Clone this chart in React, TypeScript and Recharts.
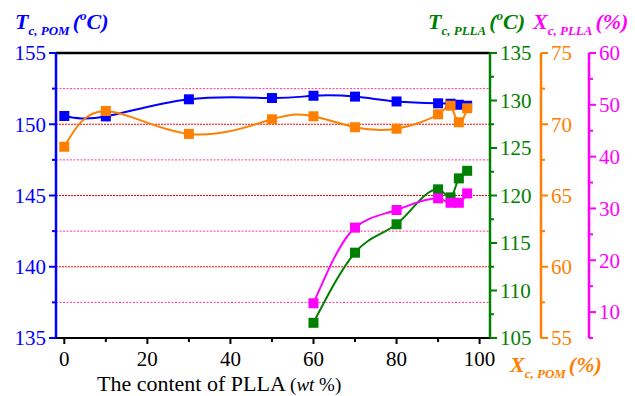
import React from 'react';
import { ComposedChart, Line, XAxis, YAxis, ReferenceLine } from 'recharts';

// PLLA content (wt %)
const pllaContent = [0, 10, 30, 50, 60, 70, 80, 90, 93, 95, 97];
// Tc of POM (°C), left axis
const tcPom = [150.58, 150.55, 151.75, 151.84, 152.0, 151.94, 151.6, 151.47, 151.44, 151.37, 151.3];
// Xc of POM (%), orange axis
const xcPom = [68.42, 70.93, 69.32, 70.35, 70.56, 69.79, 69.69, 70.7, 71.3, 70.14, 71.12];
// Tc of PLLA (°C), green axis (only from 60 wt %)
const tcPlla = [null, null, null, null, 106.6, 113.98, 116.97, 120.65, 119.8, 121.8, 122.6];
// Xc of PLLA (%), magenta axis
const xcPlla = [null, null, null, null, 11.7, 26.3, 29.7, 31.95, 31.1, 31.1, 32.9];

const xTicks = [0, 10, 20, 30, 40, 50, 60, 70, 80, 90, 100];
const leftTicks = [135, 137.5, 140, 142.5, 145, 147.5, 150, 152.5, 155];
const greenTicks = [105, 107.5, 110, 112.5, 115, 117.5, 120, 122.5, 125, 127.5, 130, 132.5, 135];
const orangeTicks = [55, 57.5, 60, 62.5, 65, 67.5, 70, 72.5, 75];
const magentaTicks = [5, 10, 15, 20, 25, 30, 35, 40, 45, 50, 55, 60];

const data = pllaContent.map((x, i) => ({
  x,
  tcPom: tcPom[i],
  xcPom: xcPom[i],
  tcPlla: tcPlla[i],
  xcPlla: xcPlla[i],
}));

const BLUE = '#0000ff';
const ORANGE = '#ff8000';
const GREEN = '#008000';
const MAGENTA = '#ff00ff';
const FONT = 'Liberation Serif';

const squareDot = (color: string, id: string) => (props: any) => {
  const { cx, cy, index } = props;
  if (cx == null || cy == null || props.value == null) return <g key={`${id}-${index}`} />;
  return <rect key={`${id}-${index}`} x={cx - 5} y={cy - 5} width={10} height={10} fill={color} />;
};

const yTick = (color: string, side: 'left' | 'right', isMajor: (v: number) => boolean) => (props: any) => {
  const { x, y, payload } = props;
  const major = isMajor(payload.value);
  const len = major ? 7 : 4;
  const dir = side === 'left' ? -1 : 1;
  return (
    <g>
      <line x1={x} y1={y} x2={x + dir * len} y2={y} stroke={color} strokeWidth={2} />
      {major && (
        <text
          x={x + dir * 10}
          y={y}
          dy="0.35em"
          textAnchor={side === 'left' ? 'end' : 'start'}
          fill={color}
          fontFamily={FONT}
          fontSize={21}
        >
          {String(payload.value)}
        </text>
      )}
    </g>
  );
};

const xTick = (props: any) => {
  const { x, y, payload } = props;
  const major = payload.value % 20 === 0;
  return (
    <g>
      <line x1={x} y1={y} x2={x} y2={y + (major ? 6 : 4)} stroke="#000" strokeWidth={2} />
      {major && (
        <text x={x} y={y + 28} textAnchor="middle" fill="#000" fontFamily={FONT} fontSize={21}>
          {String(payload.value)}
        </text>
      )}
    </g>
  );
};

function AxisTitle({ x, y, color, sym, sub, unit }: { x: number; y: number; color: string; sym: string; sub: string; unit: 'C' | '%' }) {
  return (
    <text x={x} y={y} fill={color} fontFamily={FONT} fontWeight="bold" fontStyle="italic" fontSize={22}>
      <tspan>{sym}</tspan>
      <tspan fontSize={13} dy={6}>{sub}</tspan>
      {unit === 'C' ? (
        <>
          <tspan dy={-6} dx={3}>(</tspan>
          <tspan fontSize={13} dy={-9}>o</tspan>
          <tspan dy={9}>C)</tspan>
        </>
      ) : (
        <tspan dy={-6} dx={3}>(%)</tspan>
      )}
    </text>
  );
}

export default function App() {
  return (
    <div style={{ position: 'absolute', left: 0, top: 0, width: 635, height: 396, background: '#fff', fontFamily: FONT }}>
      <ComposedChart
        width={635}
        height={396}
        data={data}
        margin={{ top: 53, right: 0, bottom: 0, left: 0 }}
        style={{ fontFamily: FONT }}
      >
        <XAxis
          dataKey="x"
          type="number"
          domain={[-2, 102.5]}
          ticks={xTicks}
          allowDataOverflow
          height={58}
          tickSize={0}
          tickMargin={0}
          tick={xTick}
          axisLine={{ stroke: '#000', strokeWidth: 2 }}
          tickLine={false}
        />
        <YAxis
          yAxisId="a0"
          orientation="left"
          width={56}
          domain={[135, 155]}
          ticks={leftTicks}
          tickSize={0}
          tickMargin={0}
          tickLine={false}
          tick={yTick(BLUE, 'left', (v) => v % 5 === 0)}
          axisLine={{ stroke: BLUE, strokeWidth: 2.5 }}
        />
        <YAxis
          yAxisId="a1"
          orientation="right"
          width={51}
          domain={[105, 135]}
          ticks={greenTicks}
          tickSize={0}
          tickMargin={0}
          tickLine={false}
          tick={yTick(GREEN, 'right', (v) => v % 5 === 0)}
          axisLine={{ stroke: GREEN, strokeWidth: 2.5 }}
        />
        <YAxis
          yAxisId="a2"
          orientation="right"
          width={48}
          domain={[55, 75]}
          ticks={orangeTicks}
          tickSize={0}
          tickMargin={0}
          tickLine={false}
          tick={yTick(ORANGE, 'right', (v) => v % 5 === 0)}
          axisLine={{ stroke: ORANGE, strokeWidth: 2.5 }}
        />
        <YAxis
          yAxisId="a3"
          orientation="right"
          width={46}
          domain={[5, 60]}
          ticks={magentaTicks}
          tickSize={0}
          tickMargin={0}
          tickLine={false}
          tick={yTick(MAGENTA, 'right', (v) => v % 10 === 0)}
          axisLine={{ stroke: MAGENTA, strokeWidth: 2.5 }}
        />

        {[152.5, 147.5, 142.5, 137.5].map((v) => (
          <ReferenceLine key={`minor-${v}`} yAxisId="a0" y={v} stroke="#ff3399" strokeDasharray="2 1.5" strokeWidth={1} />
        ))}
        {[150, 145, 140].map((v) => (
          <ReferenceLine key={`major-${v}`} yAxisId="a0" y={v} stroke="#ff0000" strokeDasharray="2 1" strokeWidth={1} />
        ))}
        <ReferenceLine yAxisId="a0" y={155} stroke="#000" strokeWidth={2.5} />

        <Line
          yAxisId="a0"
          dataKey="tcPom"
          type="natural"
          stroke={BLUE}
          strokeWidth={2}
          dot={squareDot(BLUE, 'tcPom')}
          isAnimationActive={false}
        />
        <Line
          yAxisId="a2"
          dataKey="xcPom"
          type="natural"
          stroke={ORANGE}
          strokeWidth={2}
          dot={squareDot(ORANGE, 'xcPom')}
          isAnimationActive={false}
        />
        <Line
          yAxisId="a1"
          dataKey="tcPlla"
          type="monotone"
          stroke={GREEN}
          strokeWidth={2}
          connectNulls
          dot={squareDot(GREEN, 'tcPlla')}
          isAnimationActive={false}
        />
        <Line
          yAxisId="a3"
          dataKey="xcPlla"
          type="monotone"
          stroke={MAGENTA}
          strokeWidth={2}
          connectNulls
          dot={squareDot(MAGENTA, 'xcPlla')}
          isAnimationActive={false}
        />
      </ComposedChart>

      <svg width={635} height={396} fontFamily={FONT} style={{ position: 'absolute', left: 0, top: 0, pointerEvents: 'none' }}>
        <AxisTitle x={15} y={29} color={BLUE} sym="T" sub="c, POM" unit="C" />
        <AxisTitle x={428} y={29} color={GREEN} sym="T" sub="c, PLLA" unit="C" />
        <AxisTitle x={533} y={29} color={MAGENTA} sym="X" sub="c, PLLA" unit="%" />
        <AxisTitle x={510} y={372} color={ORANGE} sym="X" sub="c, POM" unit="%" />
        <text x={97} y={391} fill="#000" fontFamily={FONT} fontSize={22}>
          <tspan>The content of PLLA </tspan>
          <tspan fontSize={19}>(</tspan>
          <tspan fontSize={19} fontStyle="italic">wt</tspan>
          <tspan fontSize={19}> %)</tspan>
        </text>
      </svg>
    </div>
  );
}
